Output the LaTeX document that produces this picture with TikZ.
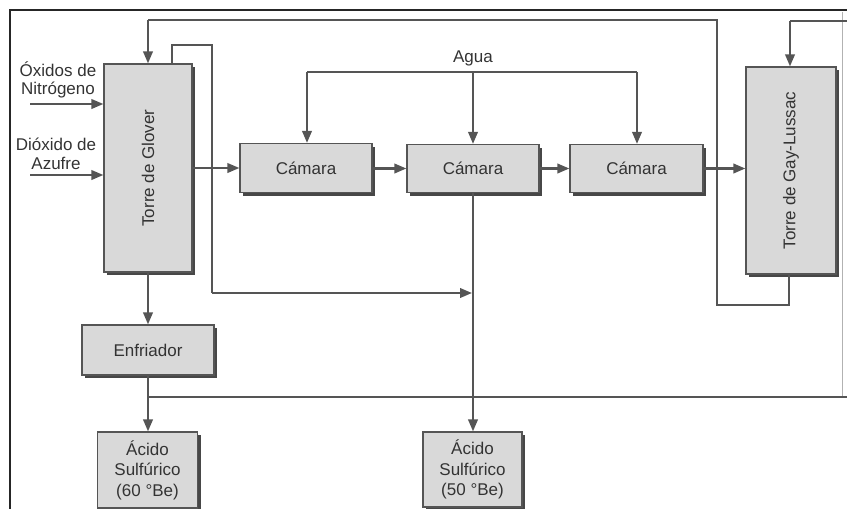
\documentclass[tikz,border=0pt]{standalone}
\usepackage{fontspec}
\setmainfont{Liberation Sans}
\usetikzlibrary{shadows,arrows.meta}
\definecolor{linec}{HTML}{555555}
\definecolor{boxfill}{HTML}{D9D9D9}
\definecolor{shadowc}{HTML}{474747}
\definecolor{textc}{HTML}{333333}
\tikzset{
  box/.style={draw=linec, line width=1.2pt, fill=boxfill, inner sep=0pt,
    drop shadow={shadow xshift=3pt, shadow yshift=-3pt, fill=shadowc, opacity=1},
    font=\fontsize{17}{20.5}\selectfont, text=textc, align=center},
  txt/.style={font=\fontsize{17}{18.5}\selectfont, text=textc, align=center, inner sep=0pt},
  flow/.style={draw=linec, line width=2.2pt},
  arr/.style={flow, -{Triangle[length=12pt,width=9.5pt]}},
  frame/.style={draw=black!85, line width=1.1pt}
}
\begin{document}
\begin{tikzpicture}[x=1pt,y=-1pt]
\useasboundingbox (0,0) rectangle (847,509);
% frame
\coordinate (f1) at (847,10);
\coordinate (f2) at (10,10);
\coordinate (f3) at (10,509);
\draw[frame] (f1) -- (f2) -- (f3);
\coordinate (fr1) at (842,12);
\coordinate (fr2) at (842,397);
\draw[draw=black!30, line width=0.8pt] (fr1) -- (fr2);

% boxes
\node[box, minimum width=88pt, minimum height=208pt] (glover) at (148,168) {};
\node[txt, rotate=90] (glovert) at (glover.center) {Torre de Glover};
\node[box, minimum width=132pt, minimum height=49pt] (cam1) at (306,168) {Cámara};
\node[box, minimum width=132pt, minimum height=48pt] (cam2) at (473,168.5) {Cámara};
\node[box, minimum width=133pt, minimum height=48pt] (cam3) at (636.5,168.5) {Cámara};
\node[box, minimum width=90pt, minimum height=207pt] (gay) at (791,170.5) {};
\node[txt, rotate=90] (gayt) at (gay.center) {Torre de Gay-Lussac};
\node[box, minimum width=132pt, minimum height=50pt] (enf) at (148,350) {Enfriador};
\node[box, minimum width=100pt, minimum height=76pt] (ac60) at (147.5,470) {Ácido\\Sulfúrico\\(60 °Be)};
\node[box, minimum width=99pt, minimum height=75pt] (ac50) at (472.5,469.5) {Ácido\\Sulfúrico\\(50 °Be)};

% left labels
\node[txt] (nox) at (58,80) {Óxidos de\\Nitrógeno};
\node[txt] (so2) at (56,154) {Dióxido de\\Azufre};
\coordinate (noxs) at (30,104);
\coordinate (so2s) at (30,175);
\draw[arr] (noxs) -- (noxs -| glover.west);
\draw[arr] (so2s) -- (so2s -| glover.west);

% main gas flow
\draw[arr] (glover.east |- cam1.west) -- (cam1.west);
\draw[arr] (cam1.east |- cam2.west) -- (cam2.west);
\draw[arr] (cam2.east |- cam3.west) -- (cam3.west);
\draw[arr] (cam3.east) -- (cam3.east -| gay.west);

% water
\node[txt] (agua) at (473,58) {Agua};
\coordinate (w1) at (307,72);
\coordinate (w2) at (473,72);
\coordinate (w3) at (637,72);
\draw[flow] (w1) -- (w3);
\draw[arr] (w1) -- (w1 |- cam1.north);
\draw[arr] (w2) -- (cam2.north);
\draw[arr] (w3) -- (w3 |- cam3.north);

% glover top outlet
\coordinate (g1) at (172,45);
\coordinate (g2) at (212,45);
\coordinate (g3) at (212,293);
\coordinate (g4) at (472,293);
\draw[flow] (g1 |- glover.north) -- (g1) -- (g2) -- (g3);
\draw[arr] (g3) -- (g4);

% chamber acid down
\draw[arr] (cam2.south) -- (ac50.north -| cam2.south);

% glover to cooler to acid
\draw[arr] (glover.south) -- (enf.north -| glover.south);
\draw[arr] (enf.south) -- (ac60.north -| enf.south);
\coordinate (j1) at (148,397);
\coordinate (j2) at (847,397);
\draw[flow] (j1) -- (j2);

% gay-lussac bottom to glover top
\coordinate (r1) at (789,305);
\coordinate (r2) at (717,305);
\coordinate (r3) at (717,20);
\coordinate (r4) at (148,20);
\draw[flow] (r1 |- gay.south) -- (r1) -- (r2) -- (r3) -- (r4);
\draw[arr] (r4) -- (glover.north);

% acid return to gay-lussac top
\coordinate (t1) at (847,21);
\coordinate (t2) at (790,21);
\draw[flow] (t1) -- (t2);
\draw[arr] (t2) -- (t2 |- gay.north);
\end{tikzpicture}
\end{document}
